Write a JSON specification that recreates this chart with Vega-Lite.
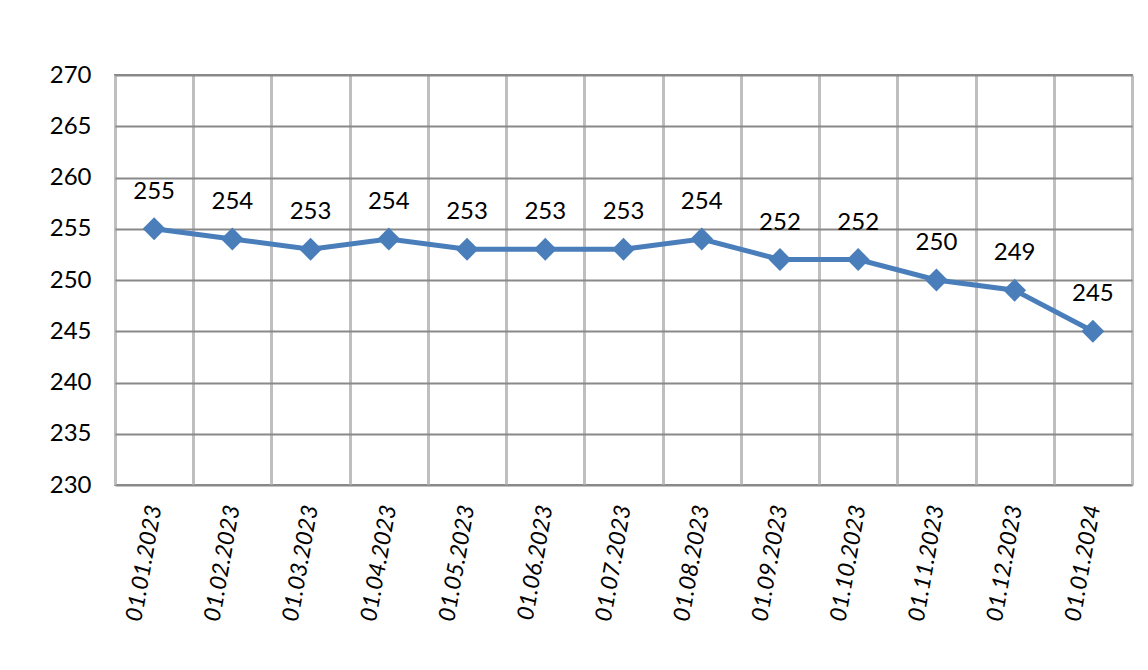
{
  "$schema": "https://vega.github.io/schema/vega-lite/v6.json",
  "width": 1017,
  "height": 410,
  "autosize": {"type": "none"},
  "padding": {"left": 115, "top": 75, "right": 16, "bottom": 185},
  "background": "white",
  "config": {
    "font": "Lato",
    "view": {"stroke": "#898989", "strokeWidth": 2},
    "axis": {"labelFont": "Lato", "labelFontSize": 24, "labelColor": "#000000"}
  },
  "data": {
    "values": [
      {"date": "01.01.2023", "value": 255},
      {"date": "01.02.2023", "value": 254},
      {"date": "01.03.2023", "value": 253},
      {"date": "01.04.2023", "value": 254},
      {"date": "01.05.2023", "value": 253},
      {"date": "01.06.2023", "value": 253},
      {"date": "01.07.2023", "value": 253},
      {"date": "01.08.2023", "value": 254},
      {"date": "01.09.2023", "value": 252},
      {"date": "01.10.2023", "value": 252},
      {"date": "01.11.2023", "value": 250},
      {"date": "01.12.2023", "value": 249},
      {"date": "01.01.2024", "value": 245}
    ]
  },
  "encoding": {
    "x": {
      "field": "date", "type": "nominal", "sort": null,
      "scale": {"paddingInner": 0, "paddingOuter": 0},
      "axis": {
        "title": null, "tickBand": "extent", "grid": true, "gridColor": "#bfbfbf", "gridWidth": 3,
        "ticks": false, "domain": false, "labelAngle": -80, "labelAlign": "right", "labelBaseline": "middle",
        "labelPadding": 20, "labelFontSize": 23, "labelFontStyle": "italic"
      }
    },
    "y": {
      "field": "value", "type": "quantitative",
      "scale": {"domain": [230, 270], "nice": false, "zero": false},
      "axis": {
        "title": null, "values": [230, 235, 240, 245, 250, 255, 260, 265, 270],
        "grid": true, "gridColor": "#898989", "gridWidth": 2, "ticks": false, "domain": false,
        "labelPadding": 24
      }
    }
  },
  "layer": [
    {"mark": {"type": "line", "color": "#4a7ebb", "strokeWidth": 5}},
    {"mark": {"type": "point", "shape": "diamond", "filled": true, "opacity": 1, "color": "#4a7ebb", "size": 520}},
    {
      "mark": {"type": "text", "fontSize": 24, "font": "Lato", "color": "#000000", "baseline": "middle", "dy": -37},
      "encoding": {"text": {"field": "value", "type": "quantitative"}}
    }
  ]
}
